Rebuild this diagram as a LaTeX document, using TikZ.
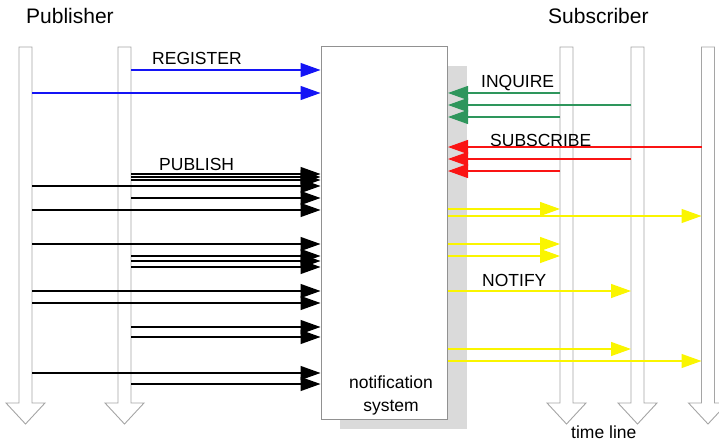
\documentclass[tikz,border=0pt]{standalone}
\usepackage{fontspec}
\setmainfont{Liberation Sans}
\usetikzlibrary{arrows.meta,calc}

\definecolor{laneline}{RGB}{165,165,165}
\definecolor{boxline}{RGB}{145,145,145}
\definecolor{shadowgray}{RGB}{218,218,218}
\definecolor{regblue}{RGB}{20,20,245}
\definecolor{inqgreen}{RGB}{46,150,92}
\definecolor{subred}{RGB}{250,20,20}
\definecolor{notyellow}{RGB}{250,245,0}

\begin{document}
\begin{tikzpicture}[x=1pt, y=-1pt, >={Triangle[length=20pt,width=14pt]},
    font=\fontsize{17.5}{23}\selectfont,
    lane/.style={minimum width=13pt, minimum height=356pt, inner sep=0pt, outer sep=0pt},
    laneedge/.style={draw=laneline, fill=white, line width=0.9pt},
    msg/.style={line width=1.3pt, ->},
    label/.style={anchor=base west, inner sep=0pt},
    title/.style={label, font=\fontsize{21}{25}\selectfont}]
    \useasboundingbox (0,0) rectangle (719,441);

    % Lifelines: shaft nodes, outline with hollow head drawn round them
    \node[lane] (pubA) at (25.5,225) {};
    \node[lane] (pubB) at (124.5,225) {};
    \node[lane] (subA) at (566.5,225) {};
    \node[lane] (subB) at (637.5,225) {};
    \node[lane] (subC) at (708,225) {};
    \foreach \l in {pubA,pubB,subA,subB,subC}
        \draw[laneedge] (\l.north west) -- (\l.south west) -- ++(-13,0)
            -- ($(\l.south)+(0,21)$) -- ($(\l.south east)+(13,0)$)
            -- (\l.south east) -- (\l.north east) -- cycle;

    % Notification system with its shadow
    \fill[shadowgray] (340,66) rectangle (467,429);
    \node[draw=boxline, fill=white, line width=1pt, minimum width=126.5pt,
        minimum height=372pt, inner sep=0pt] (ns) at (384.25,233) {};
    \node[align=center] (nslabel) at (391,395.5) {notification\\system};

    % Titles
    \node[title] (pubtitle) at (26,24) {Publisher};
    \node[title] (subtitle) at (548,24) {Subscriber};
    \node[label] (timeline) at (571,438) {time line};

    % REGISTER
    \node[label] (reglabel) at (152,65) {REGISTER};
    \draw[msg, regblue] (pubB.east |- 0,70) -- (ns.west |- 0,70);
    \draw[msg, regblue] (pubA.east |- 0,93) -- (ns.west |- 0,93);

    % PUBLISH
    \node[label] (publabel) at (159,170) {PUBLISH};
    \draw[msg] (pubB.east |- 0,174) -- (ns.west |- 0,174);
    \draw[msg] (pubB.east |- 0,177) -- (ns.west |- 0,177);
    \draw[msg] (pubB.east |- 0,180) -- (ns.west |- 0,180);
    \draw[msg] (pubA.east |- 0,186) -- (ns.west |- 0,186);
    \draw[msg] (pubB.east |- 0,198) -- (ns.west |- 0,198);
    \draw[msg] (pubA.east |- 0,210) -- (ns.west |- 0,210);
    \draw[msg] (pubA.east |- 0,244) -- (ns.west |- 0,244);
    \draw[msg] (pubB.east |- 0,256) -- (ns.west |- 0,256);
    \draw[msg] (pubB.east |- 0,261) -- (ns.west |- 0,261);
    \draw[msg] (pubB.east |- 0,267) -- (ns.west |- 0,267);
    \draw[msg] (pubA.east |- 0,291) -- (ns.west |- 0,291);
    \draw[msg] (pubA.east |- 0,303) -- (ns.west |- 0,303);
    \draw[msg] (pubB.east |- 0,327) -- (ns.west |- 0,327);
    \draw[msg] (pubB.east |- 0,337) -- (ns.west |- 0,337);
    \draw[msg] (pubA.east |- 0,373) -- (ns.west |- 0,373);
    \draw[msg] (pubB.east |- 0,384) -- (ns.west |- 0,384);

    % INQUIRE
    \node[label] (inqlabel) at (481,88) {INQUIRE};
    \draw[msg, inqgreen] (subA.west |- 0,93) -- (ns.east |- 0,93);
    \draw[msg, inqgreen] (subB.west |- 0,105) -- (ns.east |- 0,105);
    \draw[msg, inqgreen] (subA.west |- 0,117) -- (ns.east |- 0,117);

    % SUBSCRIBE
    \node[label] (sublabel) at (490,146) {SUBSCRIBE};
    \draw[msg, subred] (subC.west |- 0,147) -- (ns.east |- 0,147);
    \draw[msg, subred] (subB.west |- 0,159) -- (ns.east |- 0,159);
    \draw[msg, subred] (subA.west |- 0,171) -- (ns.east |- 0,171);

    % NOTIFY
    \node[label] (notlabel) at (482,286) {NOTIFY};
    \draw[msg, notyellow] (ns.east |- 0,209) -- (subA.west |- 0,209);
    \draw[msg, notyellow] (ns.east |- 0,216) -- (subC.west |- 0,216);
    \draw[msg, notyellow] (ns.east |- 0,244) -- (subA.west |- 0,244);
    \draw[msg, notyellow] (ns.east |- 0,256) -- (subA.west |- 0,256);
    \draw[msg, notyellow] (ns.east |- 0,291) -- (subB.west |- 0,291);
    \draw[msg, notyellow] (ns.east |- 0,349) -- (subB.west |- 0,349);
    \draw[msg, notyellow] (ns.east |- 0,361) -- (subC.west |- 0,361);
\end{tikzpicture}
\end{document}
